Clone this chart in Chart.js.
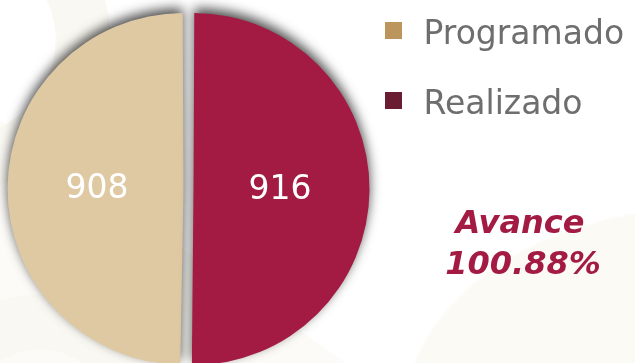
<!DOCTYPE html>
<html lang="es">
<head>
<meta charset="utf-8">
<title>Programado vs Realizado</title>
<script src="https://cdn.jsdelivr.net/npm/chart.js@4/dist/chart.umd.min.js"></script>
<style>
  html, body { margin: 0; padding: 0; }
  body {
    width: 635px; height: 363px; overflow: hidden; position: relative;
    background-color: #ffffff;
    background-image:
      radial-gradient(circle at -40px 40px, transparent 0 95px, #faf8f2 96px 150px, transparent 151px),
      radial-gradient(circle at 40px 420px, transparent 0 70px, #faf8f2 71px 125px, transparent 126px),
      radial-gradient(ellipse 420px 300px at 700px 420px, #fbfaf5 0 70%, transparent 71%),
      linear-gradient(35deg, #fcfbf7 0 30%, transparent 30% 100%);
  }
  /* canvas is a bit taller than the page and shifted up so the pie sits low */
  #wrap { position: absolute; left: 0; top: -18px; width: 635px; height: 414px; }
</style>
</head>
<body>
<div id="wrap"><canvas id="chart"></canvas></div>
<script>
// Series and labels
const categories = ['Programado', 'Realizado'];
const values = [908, 916];
const sliceColors = ['#DEC9A3', '#A31A43'];
const legendColors = ['#BC955C', '#6A1C32'];
const avanceLabel = 'Avance';

const total = values.reduce((a, b) => a + b, 0);
const avancePct = (values[1] / values[0] * 100).toFixed(2) + '%';

const WRAP_TOP = -18; // page offset of the canvas

// Legend font and placement helpers
const legendFont = { family: 'DejaVu Sans', size: 33 };
const markerSize = 17;
const markerSlot = 22;
const legendPad = 37;
const measureCtx = document.createElement('canvas').getContext('2d');
measureCtx.font = legendFont.size + 'px "' + legendFont.family + '"';
const maxTextW = Math.max(...categories.map(c => measureCtx.measureText(c).width));
const itemW = markerSlot + legendFont.size / 2 + maxTextW;
const legendBoxLeft = 385;
const padRight = Math.max(635 - 10 - itemW - legendBoxLeft, 0);

// Square legend marker, drawn in the upper part of its slot
function makeMarker(color) {
  const c = document.createElement('canvas');
  c.width = markerSlot;
  c.height = 27;
  const g = c.getContext('2d');
  g.fillStyle = color;
  g.fillRect(0, 0, markerSize, markerSize);
  return c;
}
const markers = legendColors.map(makeMarker);

// Soft drop shadow under the pie, cast upwards
const shadowPlugin = {
  id: 'pieShadow',
  beforeDatasetsDraw(chart) {
    const ctx = chart.ctx;
    ctx.save();
    ctx.shadowColor = 'rgba(0,0,0,0.7)';
    ctx.shadowBlur = 12;
    ctx.shadowOffsetX = 0;
    ctx.shadowOffsetY = -5;
  },
  afterDatasetsDraw(chart) {
    chart.ctx.restore();
  }
};

// Value labels inside the slices
const valueLabels = {
  id: 'valueLabels',
  afterDatasetsDraw(chart) {
    const ctx = chart.ctx;
    const meta = chart.getDatasetMeta(0);
    ctx.save();
    ctx.fillStyle = '#ffffff';
    ctx.font = '33px "DejaVu Sans"';
    ctx.textAlign = 'center';
    ctx.textBaseline = 'middle';
    meta.data.forEach((arc, i) => {
      const mid = (arc.startAngle + arc.endAngle) / 2;
      const r = arc.outerRadius * 0.5 + 6;
      const x = arc.x + Math.cos(mid) * r;
      const y = arc.y + Math.sin(mid) * r;
      ctx.fillText(String(chart.data.datasets[0].data[i]), x, y + 1);
    });
    ctx.restore();
  }
};

// Progress text on the right
const avanceText = {
  id: 'avanceText',
  afterDraw(chart) {
    const ctx = chart.ctx;
    ctx.save();
    ctx.fillStyle = '#A31A43';
    ctx.font = 'italic bold 32px "DejaVu Sans"';
    ctx.textAlign = 'center';
    ctx.textBaseline = 'alphabetic';
    ctx.fillText(avanceLabel, 520, 233 - WRAP_TOP);
    ctx.fillText(avancePct, 523, 274 - WRAP_TOP);
    ctx.restore();
  }
};

new Chart(document.getElementById('chart'), {
  type: 'pie',
  data: {
    labels: categories,
    datasets: [{
      data: values,
      backgroundColor: sliceColors,
      borderWidth: 0,
      offset: 20,
      clip: false
    }]
  },
  options: {
    responsive: true,
    maintainAspectRatio: false,
    animation: false,
    radius: 171,
    rotation: 360 * values[1] / total,
    layout: { padding: { left: 29, right: padRight, top: 0, bottom: 0 } },
    plugins: {
      tooltip: { enabled: false },
      legend: {
        position: 'right',
        align: 'start',
        labels: {
          font: legendFont,
          color: '#6E6E6E',
          usePointStyle: true,
          pointStyleWidth: markerSlot,
          boxHeight: markerSize,
          padding: legendPad,
          generateLabels: () => categories.map((c, i) => ({
            text: c,
            fontColor: '#6E6E6E',
            fillStyle: legendColors[i],
            strokeStyle: legendColors[i],
            lineWidth: 0,
            pointStyle: markers[i],
            rotation: 0,
            hidden: false,
            index: i
          }))
        }
      }
    }
  },
  plugins: [shadowPlugin, valueLabels, avanceText]
});
</script>
</body>
</html>
